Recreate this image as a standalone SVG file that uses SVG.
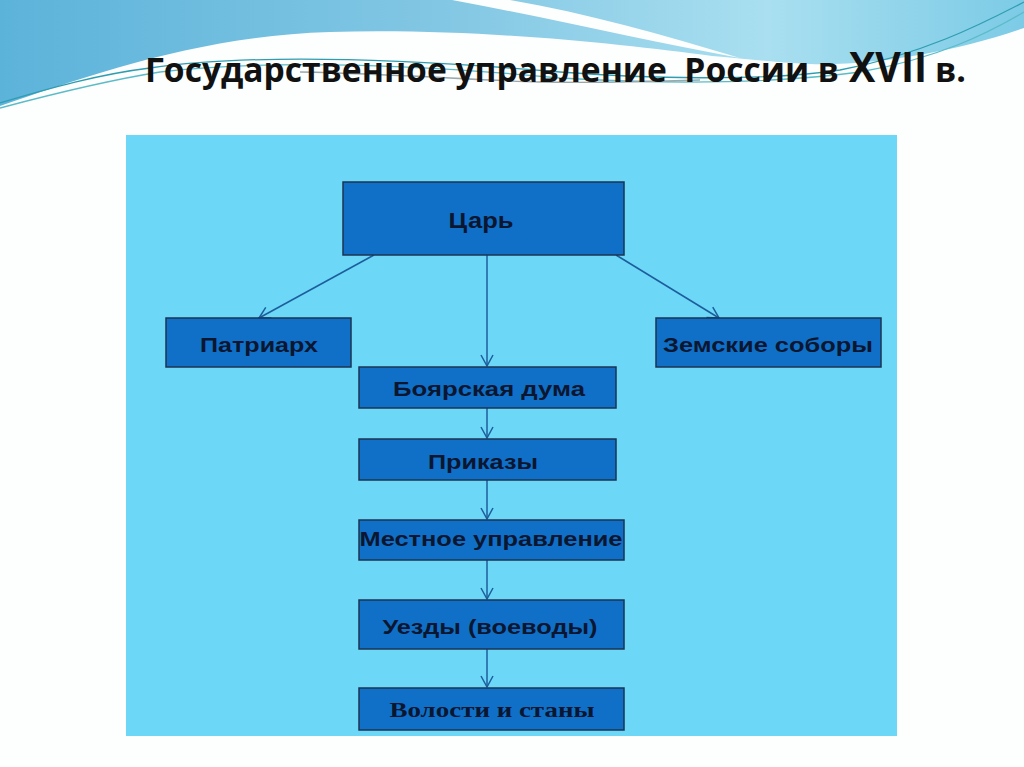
<svg xmlns="http://www.w3.org/2000/svg" width="1024" height="767" viewBox="0 0 1024 767">
<defs>
<linearGradient id="lb" x1="0" y1="0" x2="1024" y2="0" gradientUnits="userSpaceOnUse">
<stop offset="0" stop-color="#5cb3da"/>
<stop offset="0.45" stop-color="#84c8e4"/>
<stop offset="0.75" stop-color="#a9dff0"/>
<stop offset="1" stop-color="#7ccbe6"/>
</linearGradient>
<marker id="ah" markerWidth="14" markerHeight="14" refX="12" refY="7" orient="auto" markerUnits="userSpaceOnUse">
<path d="M1,1 L12,7 L1,13" fill="none" stroke="#1c5e9c" stroke-width="1.5"/>
</marker>
<style>
.box{fill:#1070c8;stroke:#1b3452;stroke-width:1.5}
.lbl{font-family:"Liberation Sans",Arial,sans-serif;font-weight:bold;font-size:21px;fill:#0b1630;text-anchor:middle}
.ser{font-family:"Liberation Serif","Times New Roman",serif;font-weight:bold;font-size:21px;fill:#0b1630;text-anchor:middle}
.con{stroke:#1c5e9c;stroke-width:1.5;fill:none;marker-end:url(#ah)}
.wl{fill:none;stroke-width:1.3}
.tt{font-family:"Open Sans","Liberation Sans",sans-serif;font-weight:bold;font-size:31px;fill:#111}
</style>
</defs>
<rect width="1024" height="767" fill="#fdfefe"/>
<path d="M0,0 H1024 V28 C960,50 880,66 810,64 C770,62 740,58 712,56 C620,44 480,28 330,32 C200,36 90,75 0,106 Z" fill="url(#lb)"/>
<path d="M452,0 L510,0 C590,14 660,34 740,58 C650,42 550,18 452,0 Z" fill="#fdfefe"/>
<path d="M0,103 C50,88 100,74 150,68 C260,52 420,60 560,72 C640,78 760,82 840,70 C920,55 980,25 1024,2" class="wl" stroke="#2e9db0"/>
<path d="M0,108 C60,92 110,80 160,72 C280,58 430,66 560,78 C660,84 770,84 860,72 C940,58 990,32 1024,12" class="wl" stroke="#5bbcc8"/>
<path d="M300,72 C400,74 470,80 540,82 C600,83 640,82 700,80" class="wl" stroke="#9aa7ab" stroke-width="1"/>
<g id="title" transform="translate(0,82) scale(1,1.12)">
<text class="tt" x="145" y="0" textLength="694" lengthAdjust="spacingAndGlyphs" xml:space="preserve">Государственное управление  России в</text>
<text class="tt" x="849" y="0" textLength="78" lengthAdjust="spacingAndGlyphs" style="font-size:36px">XVII</text>
<text class="tt" x="935" y="0" textLength="31" lengthAdjust="spacingAndGlyphs">в.</text>
</g>
<rect x="126" y="135" width="771" height="601" fill="#6cd7f6"/>
<g id="connectors">
<line class="con" x1="374" y1="255" x2="259" y2="318"/>
<line class="con" x1="487" y1="255" x2="487" y2="366"/>
<line class="con" x1="616" y1="255" x2="719" y2="318"/>
<line class="con" x1="487" y1="408" x2="487" y2="438"/>
<line class="con" x1="487" y1="480" x2="487" y2="519"/>
<line class="con" x1="487" y1="560" x2="487" y2="599"/>
<line class="con" x1="487" y1="649" x2="487" y2="687"/>
</g>
<g id="tsar"><rect class="box" x="343" y="182" width="281" height="73"/><text class="lbl" x="481" y="228" textLength="65" lengthAdjust="spacingAndGlyphs" style="font-size:22px">Царь</text></g>
<g id="patriarch"><rect class="box" x="166" y="318" width="185" height="49"/><text class="lbl" x="259" y="352" textLength="118" lengthAdjust="spacingAndGlyphs">Патриарх</text></g>
<g id="zemsky"><rect class="box" x="656" y="318" width="225" height="49"/><text class="lbl" x="768" y="352" textLength="210" lengthAdjust="spacingAndGlyphs">Земские соборы</text></g>
<g id="boyar"><rect class="box" x="359" y="367" width="257" height="41"/><text class="lbl" x="489" y="396" textLength="192" lengthAdjust="spacingAndGlyphs">Боярская дума</text></g>
<g id="prikazy"><rect class="box" x="359" y="439" width="257" height="41"/><text class="lbl" x="483" y="469" textLength="110" lengthAdjust="spacingAndGlyphs">Приказы</text></g>
<g id="local"><rect class="box" x="359" y="520" width="265" height="40"/><text class="lbl" x="491" y="546" textLength="263" lengthAdjust="spacingAndGlyphs">Местное управление</text></g>
<g id="uezdy"><rect class="box" x="359" y="600" width="265" height="49"/><text class="lbl" x="490" y="634" textLength="215" lengthAdjust="spacingAndGlyphs">Уезды (воеводы)</text></g>
<g id="volosti"><rect class="box" x="359" y="688" width="265" height="42"/><text class="ser" x="492" y="717" textLength="205" lengthAdjust="spacingAndGlyphs">Волости и станы</text></g>
</svg>
